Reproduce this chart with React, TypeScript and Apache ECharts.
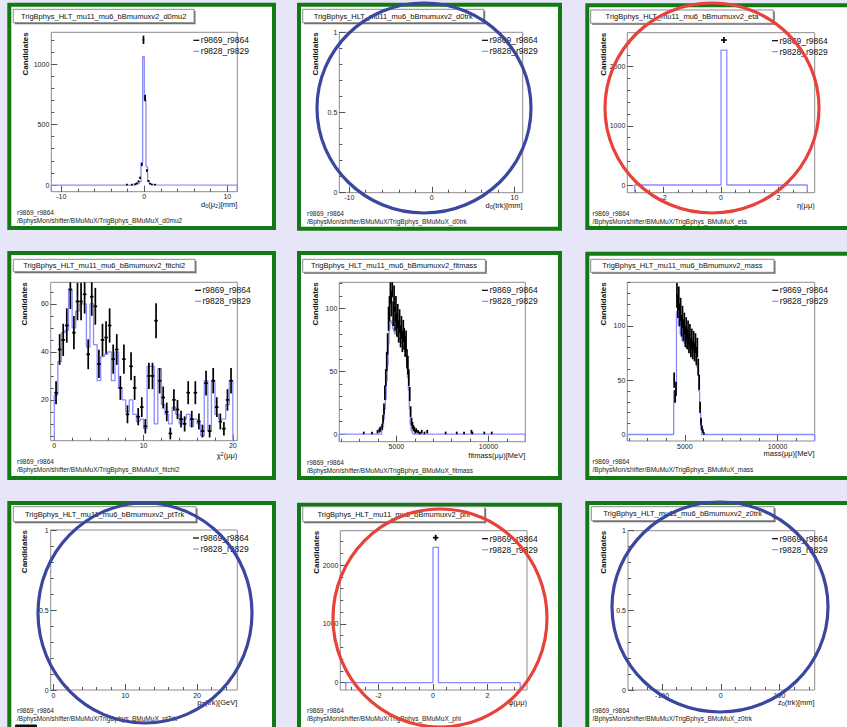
import React, { useEffect, useRef } from "react";
import * as echarts from "echarts";

const FONT = "'Liberation Sans', Arial, Helvetica, sans-serif";
const BG = "#e6e6f8";
const GREEN = "#127a12";
const BLUE = "#8a8aff";
const FRAME = "#8c8c8c";

// ---------------- texts ----------------
const runBlack = "r9869_r9864";
const runBlue = "r9828_r9829";
const titlePrefix = "TrigBphys_HLT_mu11_mu6_bBmumuxv2_";
const pathPrefix = "/BphysMon/shifter/BMuMuX/TrigBphys_BMuMuX_";
const histNames = ["d0mu2", "d0trk", "eta", "fitchi2", "fitmass", "mass", "ptTrk", "phi", "z0trk"];
const xTitles = [
  "d{s|0}(μ{s|2})[mm]",
  "d{s|0}(trk)[mm]",
  "η(μμ)",
  "χ{p|2}(μμ)",
  "fitmass(μμ)[MeV]",
  "mass(μμ)[MeV]",
  "p{s|T}(trk)[GeV]",
  "φ(μμ)",
  "z{s|0}(trk)[mm]",
];
const yTitle = "Candidates";

// ---------------- axes ----------------
const xRanges = [[-11.2, 11.2], [-11.2, 11.0], [-3.26, 3.26], [-0.4, 20.5], [1900, 12000], [1900, 12000], [-0.4, 25.6], [-3.4, 3.45], [-158, 160]];
const yRanges = [[-55, 1262], [0, 1], [-130, 2573], [3, 69], [-6, 121], [-6, 140], [0, 1], [-124, 2585], [0, 1]];
const xTickLabels = [[-10, 0, 10], [-10, 0, 10], [-2, 0, 2], [0, 10, 20], [5000, 10000], [5000, 10000], [0, 10, 20], [-2, 0, 2], [-100, 0, 100]];
const xMinorStep = [2, 2, 0.5, 2, 1000, 1000, 2, 0.5, 25];
const yTickLabels = [[0, 500, 1000], [0, 0.5, 1], [0, 1000, 2000], [20, 40, 60], [0, 50, 100], [0, 50, 100], [0, 0.5, 1], [0, 1000, 2000], [0, 0.5, 1]];
const yMinorStep = [100, 0.1, 200, 5, 10, 10, 0.1, 200, 0.1];

// ---------------- data ----------------
// d0mu2
const d0mu2Edges = [-11.2, -1.2, -1.0, -0.8, -0.6, -0.4, -0.2, 0.0, 0.2, 0.4, 0.6, 0.8, 1.0, 1.2, 11.2];
const d0mu2Blue = [0, 3, 6, 12, 28, 185, 1060, 700, 150, 30, 10, 4, 2, 0];
const d0mu2BlackX = [-2.1, -1.5, -1.1, -0.9, -0.7, -0.5, -0.3, -0.1, 0.1, 0.3, 0.5, 0.7, 0.9, 1.3];
const d0mu2BlackN = [4, 3, 8, 14, 30, 60, 170, 1200, 720, 120, 35, 12, 5, 3];
const d0mu2HalfBin = 0.1;
// eta
const etaEdges = [-3.0, 0.0, 0.2, 3.0];
const etaBlue = [0, 2280, 0];
const etaBlackX = [0.1];
const etaBlackN = [2449];
const etaHalfBin = 0.1;
// fitchi2 (50 bins of 0.4 from 0 to 20)
const fitchi2Lo = 0;
const fitchi2Width = 0.4;
const fitchi2Blue = [22, 36, 48, 49, 66, 50, 57, 60, 60, 42, 60, 43, 28, 38, 39, 40, 28, 40, 25, 20, 15, 20, 14, 11, 12, 8, 34, 34, 10, 33, 18, 14, 10, 17, 14, 10, 12, 14, 9, 12, 10, 5, 28, 7, 28, 14, 12, 12, 18, 28];
const fitchi2Black = [23, 41, 45, 51, 66, 48, 61, 61, 64, 39, 63, 59, 35, 45, 46, 51, 37, 41, 25, 37, 14, 34, 25, 13, 17, 9, 30, 30, 53, 28, 21, 15, 6, 20, 16, 12, 10, 23, 12, 23, 11, 7, 27, 7, 28, 17, 11, 8, 20, 28];
// fitmass (50 MeV bins)
const fitmassRange = [1900, 12000];
const fitmassBlueLo = 4200;
const fitmassWidth = 50;
const fitmassBlue = [3, 6, 12, 20, 28, 42, 55, 72, 84, 90, 90, 88, 84, 82, 80, 82, 80, 78, 77, 76, 74, 73, 72, 70, 68, 66, 62, 55, 45, 35, 20, 8, 3, 1, 0, 0];
const fitmassBlackLo = 4200;
const fitmassBlack = [6, 12, 20, 33, 45, 58, 72, 92, 100, 115, 104, 120, 96, 108, 92, 100, 87, 94, 82, 90, 78, 85, 74, 82, 76, 70, 74, 60, 55, 45, 32, 18, 10, 7, 5, 4, 2, 3];
const fitmassOutX = [3225, 3675, 3975, 4075, 4125, 6175, 6275, 6375, 6525, 6675, 7675, 8275, 8675, 9075, 9125, 9775, 10175];
const fitmassOutN = [1, 1, 2, 3, 4, 2, 1, 2, 1, 2, 1, 1, 1, 2, 1, 1, 1];
// mass (50 MeV bins)
const massRange = [1900, 12000];
const massBlueLo = 4400;
const massWidth = 50;
const massBlue = [40, 30, 42, 113, 112, 100, 104, 92, 98, 86, 94, 84, 90, 80, 88, 78, 85, 76, 83, 74, 80, 72, 78, 70, 66, 62, 55, 40, 20, 5];
const massBlackLo = 4400;
const massBlack = [50, 35, 42, 128, 118, 125, 110, 115, 100, 108, 96, 102, 90, 98, 88, 95, 84, 92, 80, 88, 78, 86, 76, 84, 72, 80, 62, 48, 25, 12, 6, 3, 1];
// phi
const phiEdges = [-3.2, 0.0, 0.2, 3.2];
const phiBlue = [0, 2303, 0];
const phiBlackX = [0.1];
const phiBlackN = [2466];
const phiHalfBin = 0.1;

// ---------------- layout ----------------
const panelRects = [
  [7.3, 2.7, 268.7, 227.3], [297, 2.7, 265, 228], [585.3, 3.3, 270, 226.7],
  [7.3, 251, 268.7, 229], [297, 251, 265, 229], [585.3, 251.7, 270, 228.3],
  [7.3, 501, 268.7, 260], [297, 502.7, 265, 260], [585.3, 501, 270, 260],
];
const frameRects = [
  [51.3, 32.3, 237.3, 191.7], [339.3, 32.3, 522.7, 192.7], [627.3, 32.7, 814.7, 192.7],
  [50.7, 282.3, 237.3, 440.7], [339.3, 282.3, 525.3, 441.7], [627.3, 282.3, 814.7, 441],
  [50.7, 530, 237.3, 690], [340.3, 530.7, 527, 690], [628, 530.7, 814.7, 690],
];
const titleBoxes = [
  [13.3, 9.3, 194, 22.7], [302.7, 9.3, 483.7, 22.7], [590.7, 10, 773.3, 23.3],
  [13.3, 259.3, 195, 271.7], [302.7, 259.3, 485.3, 272.3], [590.7, 259.3, 774, 272.3],
  [13.3, 506.7, 196, 521.7], [302.7, 506.7, 484.7, 521.7], [591.3, 506.7, 774, 520.7],
];
const legendX = [193.3, 482, 772, 195, 482, 772.3, 193, 482, 772];
const xTitleDy = [12.6, 12.6, 12.6, 15, 13.5, 12.6, 12.6, 12.6, 12.6];
const yTitleDx = [26, 24.3, 24.3];
const footerX = [17, 307, 592.5];
const circles = [
  { cx: 424, cy: 108, rx: 107, ry: 105, color: "#3b479e" },
  { cx: 712, cy: 108, rx: 107, ry: 105, color: "#e8433b" },
  { cx: 145, cy: 613, rx: 107, ry: 110, color: "#3b479e" },
  { cx: 440, cy: 618, rx: 107, ry: 109, color: "#e8433b" },
  { cx: 720, cy: 607, rx: 108, ry: 105, color: "#3b479e" },
];

// ---------------- helpers ----------------
function ticks(min: number, max: number, step: number): number[] {
  const out: number[] = [];
  const s = Math.ceil(min / step - 1e-9);
  const e = Math.floor(max / step + 1e-9);
  for (let k = s; k <= e; k++) out.push(+(k * step).toFixed(6));
  return out;
}
function uniformEdges(lo: number, width: number, n: number): number[] {
  const out: number[] = [];
  for (let k = 0; k <= n; k++) out.push(+(lo + k * width).toFixed(6));
  return out;
}
function histLine(edges: number[], counts: number[], ymin: number): number[][] {
  const pts: number[][] = [[edges[0], ymin]];
  for (let i = 0; i < counts.length; i++) pts.push([edges[i], counts[i]]);
  pts.push([edges[edges.length - 1], counts[counts.length - 1]]);
  pts.push([edges[edges.length - 1], ymin]);
  return pts;
}
function points(xs: number[], ns: number[], hw: number): number[][] {
  const out: number[][] = [];
  for (let i = 0; i < xs.length; i++) if (ns[i] > 0) out.push([xs[i], ns[i], hw]);
  return out;
}
function uniformPoints(lo: number, width: number, ns: number[]): number[][] {
  const out: number[][] = [];
  for (let i = 0; i < ns.length; i++) if (ns[i] > 0) out.push([lo + (i + 0.5) * width, ns[i], width / 2]);
  return out;
}

function buildHists(): { blue: number[][] | null; black: number[][] | null }[] {
  const ym = (i: number) => yRanges[i][0];
  return [
    { blue: histLine(d0mu2Edges, d0mu2Blue, ym(0)), black: points(d0mu2BlackX, d0mu2BlackN, d0mu2HalfBin) },
    { blue: null, black: null },
    { blue: histLine(etaEdges, etaBlue, ym(2)), black: points(etaBlackX, etaBlackN, etaHalfBin) },
    {
      blue: histLine(uniformEdges(fitchi2Lo, fitchi2Width, fitchi2Blue.length), fitchi2Blue, ym(3)),
      black: uniformPoints(fitchi2Lo, fitchi2Width, fitchi2Black),
    },
    {
      blue: histLine(
        [fitmassRange[0], ...uniformEdges(fitmassBlueLo, fitmassWidth, fitmassBlue.length), fitmassRange[1]],
        [0, ...fitmassBlue, 0], ym(4)),
      black: [...uniformPoints(fitmassBlackLo, fitmassWidth, fitmassBlack), ...points(fitmassOutX, fitmassOutN, fitmassWidth / 2)],
    },
    {
      blue: histLine(
        [massRange[0], ...uniformEdges(massBlueLo, massWidth, massBlue.length), massRange[1]],
        [0, ...massBlue, 0], ym(5)),
      black: uniformPoints(massBlackLo, massWidth, massBlack),
    },
    { blue: null, black: null },
    { blue: histLine(phiEdges, phiBlue, ym(7)), black: points(phiBlackX, phiBlackN, phiHalfBin) },
    { blue: null, black: null },
  ];
}

function renderErr(params: any, api: any) {
  const x = api.value(0);
  const y = api.value(1);
  const hw = api.value(2);
  const err = Math.sqrt(y);
  const cs = params.coordSys;
  const clampY = (v: number) => Math.max(cs.y, Math.min(cs.y + cs.height, v));
  const c = api.coord([x, y]);
  const top = clampY(api.coord([x, y + err])[1]);
  const bot = clampY(api.coord([x, y - err])[1]);
  const l = api.coord([x - hw, y])[0];
  const r = api.coord([x + hw, y])[0];
  const st = { stroke: "#000", lineWidth: 1.7 };
  const children: any[] = [
    { type: "line", shape: { x1: c[0], y1: top, x2: c[0], y2: bot }, style: st },
  ];
  if (c[1] >= cs.y && c[1] <= cs.y + cs.height) {
    children.push({ type: "line", shape: { x1: l, y1: c[1], x2: r, y2: c[1] }, style: st });
  }
  return { type: "group", children };
}

function buildOption() {
  const hists = buildHists();
  const grid: any[] = [];
  const xAxis: any[] = [];
  const yAxis: any[] = [];
  const series: any[] = [];
  const g: any[] = [];

  for (let i = 0; i < 9; i++) {
    const col = i % 3;
    const [px, py, pw, ph] = panelRects[i];
    g.push({
      type: "rect", z: -10,
      shape: { x: px + 2, y: py + 2, width: pw - 4, height: ph - 4 },
      style: { fill: "#ffffff", stroke: GREEN, lineWidth: 4 },
    });

    const [fl, ft, fr, fb] = frameRects[i];
    grid.push({
      left: fl, top: ft, width: fr - fl, height: fb - ft,
      show: true, borderColor: FRAME, borderWidth: 1, backgroundColor: "transparent",
      containLabel: false, outerBoundsMode: "none",
    });
    const [xmin, xmax] = xRanges[i];
    const [ymin, ymax] = yRanges[i];
    const xMinors = ticks(xmin, xmax, xMinorStep[i]);
    const yMinors = ticks(ymin, ymax, yMinorStep[i]);
    const tickStyle = { color: "#555", width: 1 };
    const noLine = { show: false, onZero: false };
    xAxis.push({
      type: "value", gridIndex: i, min: xmin, max: xmax, position: "bottom",
      axisLine: noLine, splitLine: { show: false },
      axisTick: { show: true, inside: true, length: 6, customValues: xTickLabels[i], lineStyle: tickStyle },
      axisLabel: {
        show: true, customValues: xTickLabels[i], margin: 1.5, fontSize: 7, fontFamily: FONT, color: "#222",
        formatter: (v: number) => String(v),
      },
    });
    xAxis.push({
      type: "value", gridIndex: i, min: xmin, max: xmax, position: "bottom",
      axisLine: noLine, splitLine: { show: false }, axisLabel: { show: false },
      axisTick: { show: true, inside: true, length: 3, customValues: xMinors, lineStyle: tickStyle },
    });
    yAxis.push({
      type: "value", gridIndex: i, min: ymin, max: ymax, position: "left",
      axisLine: noLine, splitLine: { show: false },
      axisTick: { show: true, inside: true, length: 6, customValues: yTickLabels[i], lineStyle: tickStyle },
      axisLabel: {
        show: true, customValues: yTickLabels[i], margin: 2, fontSize: 7, fontFamily: FONT, color: "#222",
        formatter: (v: number) => String(v),
      },
    });
    yAxis.push({
      type: "value", gridIndex: i, min: ymin, max: ymax, position: "left",
      axisLine: noLine, splitLine: { show: false }, axisLabel: { show: false },
      axisTick: { show: true, inside: true, length: 3, customValues: yMinors, lineStyle: tickStyle },
    });

    const h = hists[i];
    if (h.blue) {
      series.push({
        type: "line", xAxisIndex: 2 * i, yAxisIndex: 2 * i, data: h.blue, step: "end",
        showSymbol: false, symbol: "none", silent: true, clip: true, z: 3,
        lineStyle: { color: BLUE, width: 1.3 },
      });
    }
    if (h.black && h.black.length) {
      series.push({
        type: "custom", xAxisIndex: 2 * i, yAxisIndex: 2 * i, data: h.black,
        encode: { x: 0, y: 1 }, renderItem: renderErr, silent: true, z: 4,
      });
    }

    // title box
    const [tx1, ty1, tx2, ty2] = titleBoxes[i];
    g.push({
      type: "rect", z: 20, shape: { x: tx1 + 1.5, y: ty1 + 1.5, width: tx2 - tx1, height: ty2 - ty1 },
      style: { fill: "#6a6a6a" },
    });
    g.push({
      type: "rect", z: 21, shape: { x: tx1, y: ty1, width: tx2 - tx1, height: ty2 - ty1 },
      style: { fill: "#ffffff", stroke: "#8a8a8a", lineWidth: 1 },
    });
    g.push({
      type: "text", z: 22, x: (tx1 + tx2) / 2, y: (ty1 + ty2) / 2,
      style: {
        text: titlePrefix + histNames[i], fill: "#111", fontSize: 7.5, fontFamily: FONT,
        align: "center", verticalAlign: "middle", textAlign: "center", textVerticalAlign: "middle",
      },
    });

    // legend
    const lx = legendX[i];
    const ly1 = ft + 8;
    const ly2 = ft + 19;
    g.push({ type: "line", z: 22, shape: { x1: lx, y1: ly1, x2: lx + 6, y2: ly1 }, style: { stroke: "#000", lineWidth: 1.2 } });
    g.push({ type: "line", z: 22, shape: { x1: lx, y1: ly2, x2: lx + 6, y2: ly2 }, style: { stroke: BLUE, lineWidth: 1.2 } });
    const legText = (t: string, y: number) => ({
      type: "text", z: 22, x: lx + 7.5, y,
      style: {
        text: t, fill: "#111", fontSize: 8.5, fontFamily: FONT,
        align: "left", verticalAlign: "middle", textAlign: "left", textVerticalAlign: "middle",
      },
    });
    g.push(legText(runBlack, ly1));
    g.push(legText(runBlue, ly2));

    // axis titles
    g.push({
      type: "text", z: 22, x: fr, y: fb + xTitleDy[i],
      style: {
        text: xTitles[i], fill: "#111", fontSize: 7.5, fontFamily: FONT, lineHeight: 9,
        align: "right", verticalAlign: "middle", textAlign: "right", textVerticalAlign: "middle",
        rich: {
          s: { fontSize: 5.5, lineHeight: 5, verticalAlign: "bottom", fontFamily: FONT, fill: "#111" },
          p: { fontSize: 5.5, lineHeight: 5, verticalAlign: "top", fontFamily: FONT, fill: "#111" },
        },
      },
    });
    g.push({
      type: "text", z: 22, x: fl - yTitleDx[col], y: ft, rotation: Math.PI / 2,
      style: {
        text: yTitle, fill: "#111", fontSize: 8, fontWeight: "bold", fontFamily: FONT,
        align: "right", verticalAlign: "middle", textAlign: "right", textVerticalAlign: "middle",
      },
    });

    // footer
    const fx = footerX[col];
    g.push({
      type: "text", z: 22, x: fx, y: fb + 20.5,
      style: { text: runBlack, fill: "#222", fontSize: 6.5, fontFamily: FONT, align: "left", verticalAlign: "middle", textAlign: "left", textVerticalAlign: "middle" },
    });
    g.push({
      type: "text", z: 22, x: fx, y: fb + 28.5,
      style: { text: pathPrefix + histNames[i], fill: "#222", fontSize: 6.5, fontFamily: FONT, align: "left", verticalAlign: "middle", textAlign: "left", textVerticalAlign: "middle" },
    });
  }

  g.push({ type: "rect", z: 30, shape: { x: 15, y: 724.5, width: 22, height: 4, r: 1 }, style: { fill: "#111" } });

  for (const c of circles) {
    g.push({
      type: "ellipse", z: 100, shape: { cx: c.cx, cy: c.cy, rx: c.rx, ry: c.ry },
      style: { fill: "none", stroke: c.color, lineWidth: 3.2 },
    });
  }

  return {
    backgroundColor: BG,
    animation: false,
    grid, xAxis, yAxis, series,
    graphic: { elements: g },
  };
}

export default function App() {
  const ref = useRef<HTMLDivElement | null>(null);
  useEffect(() => {
    if (!ref.current) return;
    const chart = echarts.init(ref.current, null, { renderer: "svg", width: 847, height: 727 });
    chart.setOption(buildOption() as any);
    return () => chart.dispose();
  }, []);
  return (
    <div
      ref={ref}
      style={{ position: "fixed", left: 0, top: 0, width: 847, height: 727 }}
    />
  );
}
